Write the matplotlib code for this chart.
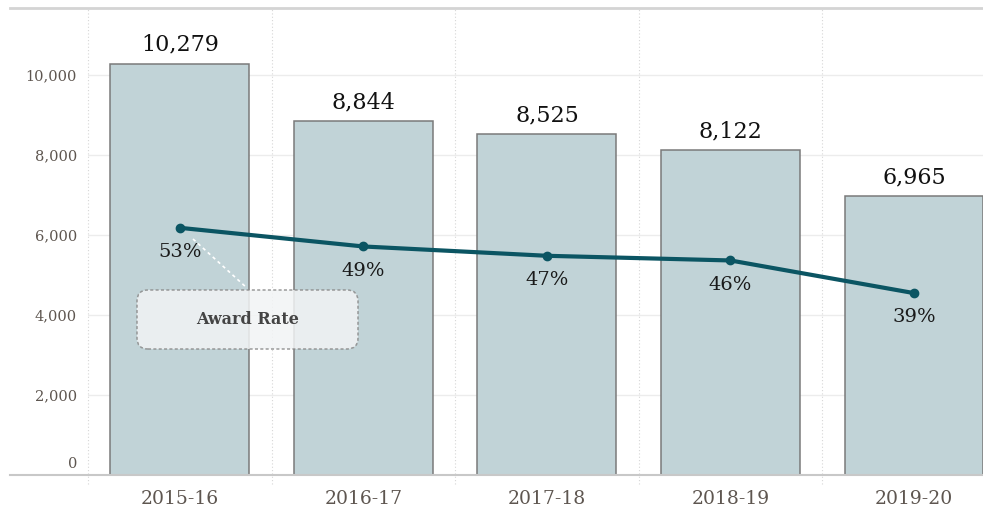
import matplotlib.pyplot as plt
from matplotlib.patches import FancyBboxPatch
from matplotlib.lines import Line2D
from matplotlib.transforms import ScaledTranslation

years = ["2015-16", "2016-17", "2017-18", "2018-19", "2019-20"]
applications = [10279, 8844, 8525, 8122, 6965]
award_rate = [53, 49, 47, 46, 39]
y_ticks = [0, 2000, 4000, 6000, 8000, 10000]

plt.rcParams["font.family"] = ["DejaVu Serif"]

fig = plt.figure(figsize=(9.83, 5.12), dpi=100)
ax = fig.add_axes([88 / 983, 37 / 512, 1 - 88 / 983, 467 / 512])

x = list(range(len(years)))
ax.bar(x, applications, width=0.757, color="#c1d3d7", edgecolor="#7a7a7a",
       linewidth=1.1, zorder=2)
for xi, v in zip(x, applications):
    ax.text(xi, v + 200, f"{v:,}", ha="center", va="bottom", fontsize=16,
            color="#111111", zorder=5)

ymax = 11675
ax.set_ylim(0, ymax)
ax.set_xlim(-0.5, 4.376)
ax.set_yticks(y_ticks)
ax.set_yticklabels([f"{t:,}" for t in y_ticks])
ax.set_xticks(x)
ax.set_xticklabels(years)
ax.tick_params(axis="y", length=0, pad=8, labelsize=10.5, labelcolor="#5e5650")
ax.tick_params(axis="x", length=0, pad=11, labelsize=13.5, labelcolor="#5e5650")
# nudge the 0 label up like the original
lab0 = ax.get_yticklabels()[0]
lab0.set_transform(lab0.get_transform() + ScaledTranslation(0, 0.13, fig.dpi_scale_trans))

ax.grid(axis="y", color="#ececec", linewidth=1, zorder=0)
for b in [-0.5, 0.5, 1.5, 2.5, 3.5]:
    ax.axvline(b, color="#d6d6d6", linestyle=(0, (1, 2)), linewidth=0.8,
               ymin=-0.02, clip_on=False, zorder=0)
for s in ax.spines.values():
    s.set_visible(False)

# rate line on a hidden secondary scale
ax2 = ax.twinx()
ax2.set_ylim(0, ymax / 116.6)
ax2.plot(x, award_rate, color="#0b5563", linewidth=3, marker="o",
         markersize=6, zorder=6)
for xi, r in zip(x, award_rate):
    ax2.text(xi, r - 3.3, f"{r}%", ha="center", va="top", fontsize=14,
             color="#1a1a1a", zorder=7)
ax2.axis("off")

# frame lines across the whole width
fig.add_artist(Line2D([10 / 983, 1], [504 / 512, 504 / 512], color="#d4d4d4",
                      linewidth=2))
fig.add_artist(Line2D([10 / 983, 1], [37 / 512, 37 / 512], color="#c8c8c8",
                      linewidth=1.5))

# "Award Rate" callout
fig.add_artist(Line2D([193 / 983, 247 / 983], [(512 - 239) / 512, (512 - 288) / 512],
                      color="white", linestyle=(0, (2, 2)), linewidth=1.2))
box = FancyBboxPatch((1.37, 1.63), 2.21, 0.59,
                     boxstyle="round,pad=0,rounding_size=0.11",
                     transform=fig.dpi_scale_trans, facecolor="#f2f4f5",
                     alpha=0.85, edgecolor="#8a8a8a", linestyle=(0, (2, 1.5)),
                     linewidth=1.1)
fig.add_artist(box)
fig.text(247.5 / 983, (512 - 320) / 512, "Award Rate", ha="center", va="center",
         fontsize=11.5, fontweight="bold", color="#444444")

fig.savefig("out.png", dpi=100)
